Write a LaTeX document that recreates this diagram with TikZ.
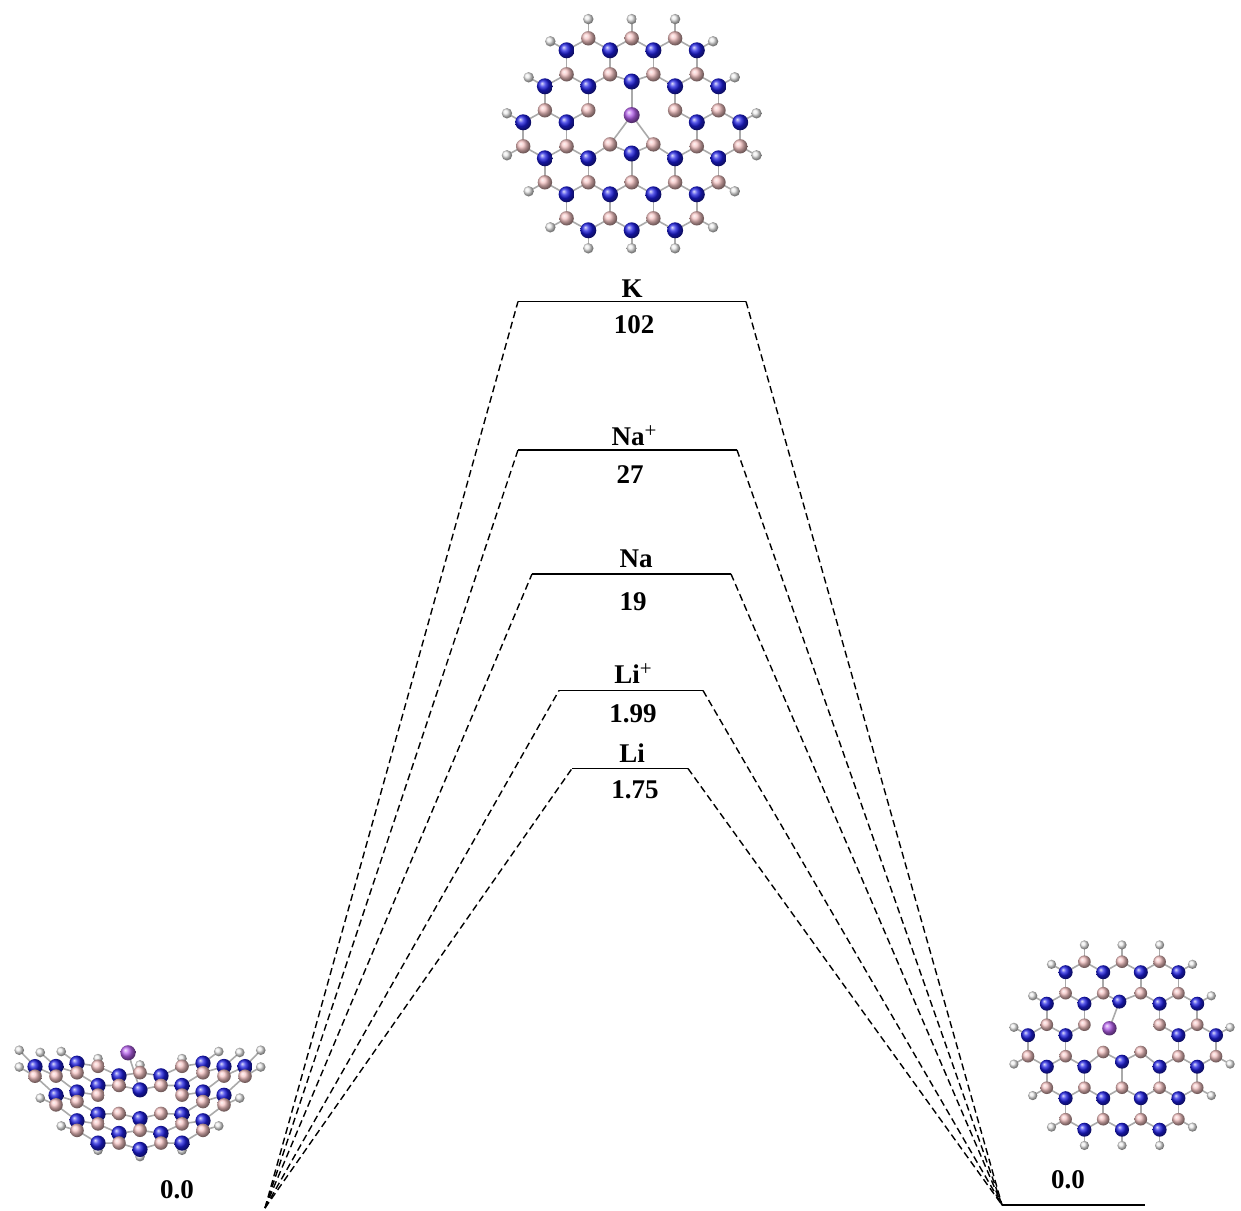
\documentclass[tikz,border=0pt]{standalone}
\usepackage{fontspec}
\setmainfont{Liberation Serif}
\definecolor{Nblue}{RGB}{30,30,225}
\definecolor{Bpink}{RGB}{245,195,195}
\definecolor{Hgrey}{RGB}{235,235,235}
\definecolor{Kviolet}{RGB}{180,95,235}
\definecolor{bondgrey}{RGB}{170,170,170}
\tikzset{
  lvl/.style={line width=0.8pt},
  dsh/.style={dash pattern=on 3.5pt off 2pt, line width=0.7pt},
  lbl/.style={font=\fontsize{13.5}{16}\selectfont\bfseries, anchor=base, inner sep=0pt},
  bond/.style={draw=bondgrey, line width=0.8pt},
}
\newcommand{\supplus}{\raisebox{0.62ex}{\fontsize{10.5}{12}\selectfont\mdseries +}}
% flake geometry: centre x, centre y, w, r, curvature k, sin, cos
\newcommand{\flakesetup}[7]{\def\fxo{#1}\def\fyo{#2}\def\fw{#3}\def\fr{#4}\def\fk{#5}\def\fs{#6}\def\fc{#7}}
\newcommand{\acoord}[3]{%
  \pgfmathsetmacro\uu{(#2)*\fw}%
  \pgfmathsetmacro\vv{((#3)-4)*\fr}%
  \pgfmathsetmacro\sx{\fxo+\uu}%
  \pgfmathsetmacro\sy{\fyo+\vv*\fs-\fk*\uu*\uu*\fc}%
  \coordinate (#1) at (\sx,\sy);}
\newcommand{\drawflake}[1]{%
  \foreach \lv/\ly/\xs in {0/0/{-2,0,2},1/0.5/{-3,-1,1,3},2/1.5/{-3,-1,1,3},3/2/{-4,-2,0,2,4},4/3/{-4,-2,2,4},5/3.5/{-5,-3,3,5},6/4.5/{-5,-3,-1,1,3,5},7/5/{-4,-2,0,2,4},8/6/{-4,-2,0,2,4},9/6.5/{-3,-1,1,3},10/7.5/{-3,-1,1,3},11/8/{-2,0,2}}{%
    \foreach \x in \xs {\acoord{#1L\lv x\x}{\x}{\ly}}}%
  \acoord{#1L3x0}{\nthreex}{\nthreey}%
  \acoord{#1L6x-1}{-1}{\bsixy}%
  \acoord{#1L6x1}{1}{\bsixy}%
  \acoord{#1L7x0}{0}{\nseveny}%
  \acoord{#1K0}{\kx}{\ky}%
  \coordinate (#1K) at ([yshift=\klift]#1K0);
  % bonds
  \foreach \a in {-3,-1,1,3}{\draw[bond] (#1L1x\a) -- (#1L2x\a); \draw[bond] (#1L9x\a) -- (#1L10x\a);}
  \foreach \a in {-4,-2,2,4}{\draw[bond] (#1L3x\a) -- (#1L4x\a);}
  \foreach \a in {-5,-3,3,5}{\draw[bond] (#1L5x\a) -- (#1L6x\a);}
  \foreach \a in {-4,-2,0,2,4}{\draw[bond] (#1L7x\a) -- (#1L8x\a);}
  \foreach \a/\b in {-2/-3,-2/-1,0/-1,0/1,2/1,2/3}{\draw[bond] (#1L0x\a) -- (#1L1x\b);}
  \foreach \a/\b in {-3/-4,-3/-2,-1/-2,-1/0,1/0,1/2,3/2,3/4}{\draw[bond] (#1L2x\a) -- (#1L3x\b);}
  \foreach \a/\b in {-4/-5,-4/-3,-2/-3,2/3,4/3,4/5}{\draw[bond] (#1L4x\a) -- (#1L5x\b);}
  \foreach \a/\b in {-5/-4,-3/-4,-3/-2,-1/-2,-1/0,1/0,1/2,3/2,3/4,5/4}{\draw[bond] (#1L6x\a) -- (#1L7x\b);}
  \foreach \a/\b in {-4/-3,-2/-3,-2/-1,0/-1,0/1,2/1,2/3,4/3}{\draw[bond] (#1L8x\a) -- (#1L9x\b);}
  \foreach \a/\b in {-3/-2,-1/-2,-1/0,1/0,1/2,3/2}{\draw[bond] (#1L10x\a) -- (#1L11x\b);}
  \foreach \t in \kbondlist {\draw[bond] (#1K) -- (#1\t);}
  % hydrogens
  \foreach \hx/\hy/\p [count=\i] in {-2/-0.8/L0x-2,0/-0.8/L0x0,2/-0.8/L0x2,-3.75/0.125/L1x-3,3.75/0.125/L1x3,-4.75/1.625/L3x-4,4.75/1.625/L3x4,-5.75/3.125/L5x-5,5.75/3.125/L5x5,-5.75/4.875/L6x-5,5.75/4.875/L6x5,-4.75/6.375/L8x-4,4.75/6.375/L8x4,-3.75/7.875/L10x-3,3.75/7.875/L10x3,-2/8.75/L11x-2,0/8.75/L11x0,2/8.75/L11x2}{%
    \acoord{#1H\i}{\hx}{\hy}\draw[bond] (#1H\i) -- (#1\p);}
  \foreach \i in {1,...,18}{\shade[ball color=Hgrey] (#1H\i) circle[radius=\rH];}
  % heavy atoms
  \foreach \lv/\xs/\col/\rr in {0/{-2,0,2}/Bpink/\rB,1/{-3,-1,1,3}/Nblue/\rN,2/{-3,-1,1,3}/Bpink/\rB,3/{-4,-2,0,2,4}/Nblue/\rN,4/{-4,-2,2,4}/Bpink/\rB,5/{-5,-3,3,5}/Nblue/\rN,6/{-5,-3,-1,1,3,5}/Bpink/\rB,7/{-4,-2,0,2,4}/Nblue/\rN,8/{-4,-2,0,2,4}/Bpink/\rB,9/{-3,-1,1,3}/Nblue/\rN,10/{-3,-1,1,3}/Bpink/\rB,11/{-2,0,2}/Nblue/\rN}{%
    \foreach \x in \xs {\shade[ball color=\col] (#1L\lv x\x) circle[radius=\rr];}}
  \shade[ball color=Kviolet] (#1K) circle[radius=\rK];
}
\begin{document}
\begin{tikzpicture}[x=0.5pt,y=-0.5pt]
\fill[white] (0,0) rectangle (1241,1210);
\useasboundingbox (0,0) rectangle (1241,1210);

% ---------- energy levels ----------
\foreach \n/\xl/\xr/\y in {K/518/746/301.5,Nap/518/737/450,Na/532/731/574,Lip/559/703/690.5,Li/572/688/768.5}{%
  \coordinate (\n-l) at (\xl,\y); \coordinate (\n-r) at (\xr,\y);}
\coordinate (L) at (265,1208);
\coordinate (R) at (1002,1205);
\coordinate (Rend) at (1145,1205);
\foreach \n in {K,Nap,Na,Lip,Li}{%
  \draw[lvl] (\n-l) -- (\n-r);
  \draw[dsh] (L) -- (\n-l);
  \draw[dsh] (\n-r) -- (R);}
\draw[lvl] (R) -- (Rend);

\node[lbl] (tK) at (632,297) {K};
\node[lbl] (eK) at (634,333) {102};
\node[lbl] (tNap) at (634,445) {Na\supplus};
\node[lbl] (eNap) at (630,483) {27};
\node[lbl] (tNa) at (636,567) {Na};
\node[lbl] (eNa) at (633,610) {19};
\node[lbl] (tLip) at (633,683) {Li\supplus};
\node[lbl] (eLip) at (633,722) {1.99};
\node[lbl] (tLi) at (632,762) {Li};
\node[lbl] (eLi) at (635,798) {1.75};
\node[lbl] (eL) at (177,1198) {0.0};
\node[lbl] (eR) at (1068,1188) {0.0};

% ---------- top molecule ----------
\flakesetup{631.7}{134.3}{21.7}{24}{0}{1}{1}
\def\nthreex{0}\def\nthreey{1.8}\def\bsixy{4.42}\def\nseveny{4.8}
\def\kx{0}\def\ky{3.2}\def\klift{0pt}\def\kbondlist{L3x0,L6x-1,L6x1}
\def\rN{4.0pt}\def\rB{3.6pt}\def\rH{2.6pt}\def\rK{4.0pt}
\drawflake{T}

% ---------- right molecule ----------
\flakesetup{1122}{1045.7}{18.8}{21}{0}{1}{1}
\def\nthreex{-0.14}\def\nthreey{1.9}\def\bsixy{4.3}\def\nseveny{4.76}
\def\kx{-0.67}\def\ky{3.17}\def\klift{0pt}\def\kbondlist{L3x0}
\def\rN{3.5pt}\def\rB{3.15pt}\def\rH{2.3pt}\def\rK{3.6pt}
\drawflake{S}

% ---------- left molecule (side view) ----------
\flakesetup{140}{1111}{21}{24}{0.0039}{0.4}{0.92}
\def\nthreex{0}\def\nthreey{1.8}\def\bsixy{4.42}\def\nseveny{4.8}
\def\kx{-0.57}\def\ky{3.2}\def\klift{25pt}\def\kbondlist{L3x0}
\def\rN{3.8pt}\def\rB{3.4pt}\def\rH{2.4pt}\def\rK{3.8pt}
\drawflake{P}
\end{tikzpicture}
\end{document}
